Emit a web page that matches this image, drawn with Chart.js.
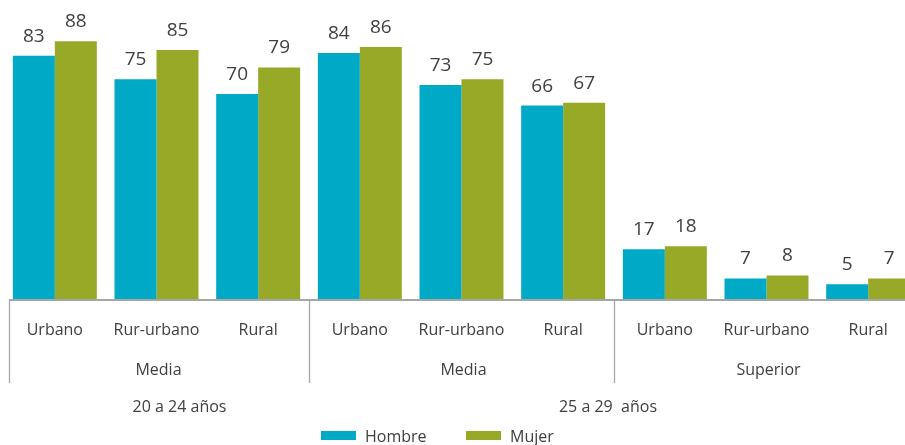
<!DOCTYPE html>
<html>
<head>
<meta charset="utf-8">
<script src="https://cdn.jsdelivr.net/npm/chart.js@4.4.0/dist/chart.umd.min.js"></script>
<style>
    html, body { margin: 0; padding: 0; background: #fff; overflow: hidden; }
    #wrap { width: 919px; height: 445px; position: relative; }
</style>
</head>
<body>
<div id="wrap"><canvas id="chart"></canvas></div>
<script>
// ===== DATA =====
const categories = ['Urbano', 'Rur-urbano', 'Rural', 'Urbano', 'Rur-urbano', 'Rural', 'Urbano', 'Rur-urbano', 'Rural'];
const hombre = [83, 75, 70, 84, 73, 66, 17, 7, 5];
const mujer = [88, 85, 79, 86, 75, 67, 18, 8, 7];
// second level: [label, first index, last index]
const levelGroups = [['Media', 0, 2], ['Media', 3, 5], ['Superior', 6, 8]];
// third level
const ageGroups = [['20 a 24 años', 0, 2], ['25 a 29  años', 3, 8]];
const seriesNames = ['Hombre', 'Mujer'];
const seriesColors = ['#00A9C5', '#98A927'];

const textColor = '#404040';
const lineColor = '#A6A6A6';
const fontFamily = "'Open Sans', 'Noto Sans', sans-serif";

// ===== DRAWING PLUGIN: value labels, multi-level axis, legend =====
const extrasPlugin = {
    id: 'extras',
    afterDatasetsDraw(chart) {
        const ctx = chart.ctx;
        ctx.save();
        ctx.fillStyle = textColor;
        ctx.font = '19px ' + fontFamily;
        ctx.textAlign = 'center';
        ctx.textBaseline = 'bottom';
        chart.data.datasets.forEach((ds, di) => {
            const meta = chart.getDatasetMeta(di);
            meta.data.forEach((bar, i) => {
                ctx.fillText(ds.data[i], bar.x, bar.y - 10);
            });
        });
        ctx.restore();
    },
    afterDraw(chart) {
        const ctx = chart.ctx;
        const x = chart.scales.x;
        const area = chart.chartArea;
        const step = x.getPixelForValue(1) - x.getPixelForValue(0);
        const edge = i => x.getPixelForValue(i) - step / 2;
        const axisStart = area.left + 5;

        ctx.save();
        // axis line
        ctx.strokeStyle = lineColor;
        ctx.lineWidth = 2;
        ctx.beginPath();
        ctx.moveTo(axisStart, area.bottom + 1);
        ctx.lineTo(area.right, area.bottom + 1);
        ctx.stroke();

        // group separators
        ctx.lineWidth = 1.3;
        levelGroups.forEach(g => {
            const px = Math.round(Math.max(edge(g[1]), axisStart)) + 0.5;
            ctx.beginPath();
            ctx.moveTo(px, area.bottom);
            ctx.lineTo(px, area.bottom + 84);
            ctx.stroke();
        });

        ctx.fillStyle = textColor;
        ctx.font = '16px ' + fontFamily;
        ctx.textAlign = 'center';
        ctx.textBaseline = 'middle';
        levelGroups.forEach(g => {
            const cx = (edge(g[1]) + edge(g[2] + 1)) / 2;
            ctx.fillText(g[0], cx + 2, area.bottom + 71);
        });
        ageGroups.forEach((g, k) => {
            const cx = k === 0 ? x.getPixelForValue(1) + 23 : (edge(g[1]) + edge(g[2] + 1)) / 2 - 6;
            ctx.fillText(g[0], cx, area.bottom + 108);
        });

        // legend
        const legendX = [321, 466];
        seriesNames.forEach((name, i) => {
            ctx.fillStyle = seriesColors[i];
            ctx.fillRect(legendX[i], 431, 35, 9);
            ctx.fillStyle = textColor;
            ctx.textAlign = 'left';
            ctx.fillText(name, legendX[i] + 44, 437);
        });
        ctx.restore();
    }
};

const chart = new Chart(document.getElementById('chart'), {
    type: 'bar',
    data: {
        labels: categories,
        datasets: [
            { label: seriesNames[0], data: hombre, backgroundColor: seriesColors[0], borderWidth: 0 },
            { label: seriesNames[1], data: mujer, backgroundColor: seriesColors[1], borderWidth: 0 }
        ]
    },
    options: {
        responsive: true,
        maintainAspectRatio: false,
        animation: false,
        layout: { padding: { left: 4, right: 0, top: 6, bottom: 0 } },
        categoryPercentage: 0.826,
        barPercentage: 1.0,
        plugins: {
            legend: { display: false },
            tooltip: { enabled: false }
        },
        scales: {
            x: {
                grid: { display: false, drawTicks: false },
                border: { display: false },
                ticks: {
                    color: textColor,
                    font: { family: fontFamily, size: 16 },
                    padding: 22,
                    maxRotation: 0,
                    autoSkip: false
                },
                afterFit(scale) { scale.height = 146; }
            },
            y: {
                display: false,
                min: 0,
                max: 100
            }
        }
    },
    plugins: [extrasPlugin]
});
</script>
</body>
</html>
